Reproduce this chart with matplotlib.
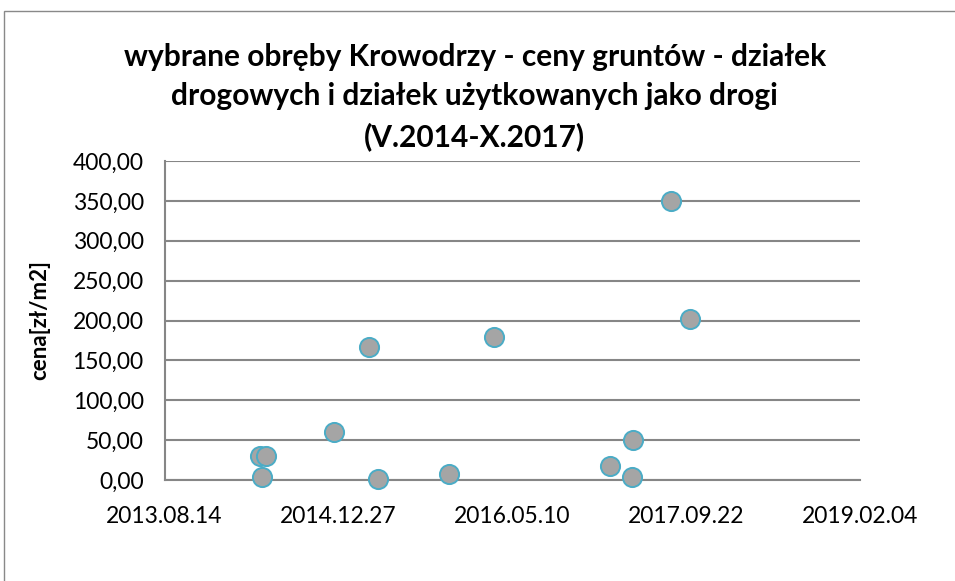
import matplotlib
matplotlib.use("Agg")
import matplotlib.pyplot as plt
import matplotlib.dates as mdates
import matplotlib.ticker as mticker
from matplotlib.patches import Rectangle
import pandas as pd

plt.rcParams['font.family'] = ['Lato', 'DejaVu Sans']

dates = ["2014-05-15", "2014-06-03", "2014-05-21", "2014-12-14", "2015-03-24",
         "2015-04-20", "2015-11-11", "2016-03-18", "2017-02-16", "2017-04-19",
         "2017-04-22", "2017-08-10", "2017-10-02"]
prices = [30.0, 30.0, 4.1, 59.8, 166.4, 1.3, 8.0, 179.3, 18.0, 4.2, 50.6, 349.8, 201.5]

x_start = "2013-08-14"
x_end = "2019-02-04"
tick_step_days = 500
y_ticks = [0, 50, 100, 150, 200, 250, 300, 350, 400]

title = "wybrane obręby Krowodrzy - ceny gruntów - działek\ndrogowych i działek użytkowanych jako drogi\n(V.2014-X.2017)"
ylabel = "cena[zł/m2]"

fig = plt.figure(figsize=(9.55, 5.81), dpi=100)
fig.patches.append(Rectangle((4 / 955, -0.1), 1.1, (581 - 11) / 581 + 0.1,
                             transform=fig.transFigure, fill=False,
                             edgecolor='#898989', linewidth=1.0))
ax = fig.add_axes([164.5 / 955, 101 / 581, 695.5 / 955, 319 / 581])

d = pd.to_datetime(dates)
ax.scatter(d, prices, s=190, facecolor='#A5A5A5', edgecolor='#4BACC6',
           linewidth=1.4, zorder=3, clip_on=False)

x0 = pd.Timestamp(x_start)
x1 = pd.Timestamp(x_end)
ax.set_xlim(x0, x1)
ticks = pd.date_range(x0, x1, freq=f"{tick_step_days}D")
ax.set_xticks(ticks)
ax.xaxis.set_major_formatter(mdates.DateFormatter('%Y.%m.%d'))
ax.set_ylim(0, 400)
ax.set_yticks(y_ticks)
ax.yaxis.set_major_formatter(mticker.FuncFormatter(lambda v, p: f"{v:.2f}".replace('.', ',')))

ax.grid(axis='y', color='#868686', linewidth=1.5)
ax.set_axisbelow(True)
for s in ['top', 'right']:
    ax.spines[s].set_visible(False)
for s in ['left', 'bottom']:
    ax.spines[s].set_color('#868686')
    ax.spines[s].set_linewidth(1.5)
ax.tick_params(length=0, labelsize=16.5, colors='black')
ax.tick_params(axis='y', pad=15)
ax.tick_params(axis='x', pad=19)

fig.text(40 / 955, 1 - 320 / 581, ylabel, rotation=90, ha='center', va='center',
         fontsize=16, fontweight='bold')
fig.text(0.497, 1 - 43 / 581, title, ha='center', va='top', fontsize=21.5,
         fontweight='bold', linespacing=1.5)

fig.savefig("out.png", dpi=100)
